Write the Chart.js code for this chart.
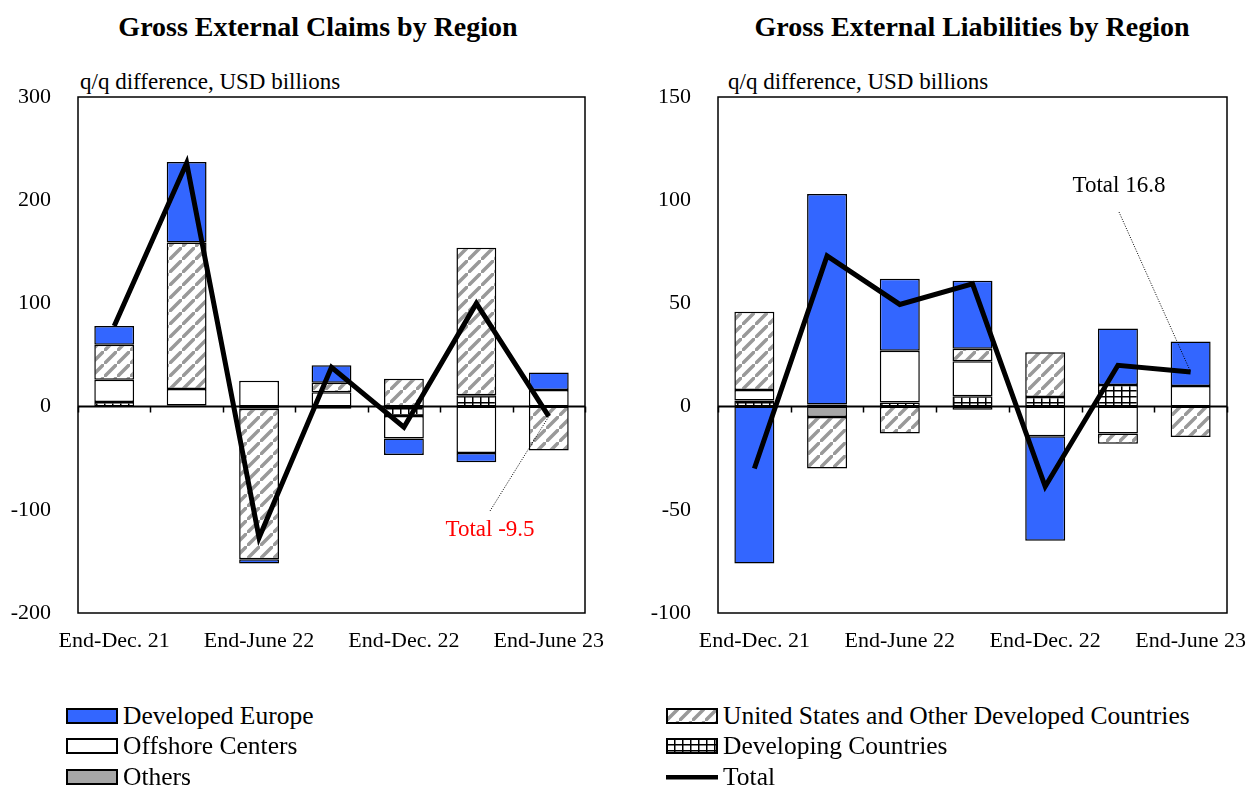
<!DOCTYPE html>
<html>
<head>
<meta charset="utf-8">
<script src="https://cdn.jsdelivr.net/npm/chart.js@4.4.1/dist/chart.umd.min.js"></script>
<style>
  html,body{margin:0;padding:0;background:#fff;overflow:hidden}
  #wrap{position:relative;width:1250px;height:787px;overflow:hidden;font-family:'Liberation Serif','Times New Roman',serif;color:#000}
  .ttl{position:absolute;top:11px;font-weight:bold;font-size:28px;line-height:32px;white-space:nowrap;transform:translateX(-50%)}
  .unit{position:absolute;top:69px;font-size:23px;line-height:26px;white-space:nowrap}
  .cv{position:absolute;top:0}
  .leg{position:absolute;font-size:25.5px;display:flex;align-items:center;height:28px;white-space:nowrap}
  .leg canvas{margin-right:5px}
</style>
</head>
<body>
<div id="wrap">
  <div class="ttl" style="left:318px">Gross External Claims by Region</div>
  <div class="ttl" style="left:972px">Gross External Liabilities by Region</div>
  <div class="unit" style="left:80px">q/q difference, USD billions</div>
  <div class="unit" style="left:728px">q/q difference, USD billions</div>
  <div class="cv" style="left:0;width:625px;height:660px"><canvas id="claims"></canvas></div>
  <div class="cv" style="left:625px;width:680px;height:660px"><canvas id="liab"></canvas></div>
  <div id="legend"></div>
</div>
<script>
'use strict';

// ── data (USD billions, q/q difference) ──
var categories = ['Dec. 21','Mar. 22','June 22','Sep. 22','Dec. 22','Mar. 23','June 23'];
var tickLabels = ['End-Dec. 21','','End-June 22','','End-Dec. 22','','End-June 23'];

var claimsEurope     = [18, 78, -4, 17, -16, -9, 17];
var claimsUSOther    = [34, 142, -146, 9, 27, 143, -42.5];
var claimsOffshore   = [21.5, 16, 25, 14, -22, -45, 16];
var claimsDeveloping = [4.5, 1, -2, 0, -9, 11, 0];
var claimsOthers     = [0, 0, 0, -2, 0, 0, 0];
var claimsTotal      = [78, 236, -127, 38, -20, 100, -9.5];

var liabEurope     = [-76, 102, 35, 33, -50.6, 27.3, 21.5];
var liabUSOther    = [38, -25, -13, 6, 21.6, -5, -14.7];
var liabOffshore   = [5, 0, 25, 17, -14.4, -13, 10];
var liabDeveloping = [3, 1, 2, 5, 4.7, 10.5, 0];
var liabOthers     = [0, -5, 0, -1.5, 0, 0, 0];
var liabTotal      = [-30, 73, 49.5, 59.5, -38.7, 20, 16.8];

var FONT = "'Liberation Serif','Times New Roman',serif";
var BLUE = '#3366ff';
var GREY = '#a6a6a6';

// ── fill patterns ──
function hatchPattern(ctx){
  var s = 13;
  var c = document.createElement('canvas'); c.width = s; c.height = s;
  var g = c.getContext('2d');
  g.fillStyle = '#fff'; g.fillRect(0,0,s,s);
  g.strokeStyle = '#999'; g.lineWidth = 3.5;
  g.beginPath();
  g.moveTo(-3,s+3); g.lineTo(s+3,-3);
  g.moveTo(-s-3,3); g.lineTo(3,-s-3);
  g.moveTo(s-3,2*s+3); g.lineTo(2*s+3,s-3);
  g.stroke();
  return ctx.createPattern(c,'repeat');
}
function gridPattern(ctx){
  var c = document.createElement('canvas'); c.width = 8; c.height = 6;
  var g = c.getContext('2d');
  g.fillStyle = '#fff'; g.fillRect(0,0,8,6);
  g.fillStyle = '#000';
  g.fillRect(0,0,1.5,6);
  g.fillRect(0,0,8,1.5);
  return ctx.createPattern(c,'repeat');
}

// ── box, zero line with ticks, note ──
var framePlugin = {
  id: 'frame',
  afterDraw: function(chart){
    var ctx = chart.ctx, a = chart.chartArea;
    var xs = chart.scales.x, ys = chart.scales.y;
    ctx.save();
    ctx.strokeStyle = '#000';
    ctx.lineWidth = 1.5;
    ctx.strokeRect(a.left, a.top, a.right - a.left, a.bottom - a.top);
    var y0 = ys.getPixelForValue(0);
    ctx.lineWidth = 2;
    ctx.beginPath(); ctx.moveTo(a.left, y0); ctx.lineTo(a.right, y0); ctx.stroke();
    var step = (a.right - a.left) / categories.length;
    ctx.lineWidth = 1.5;
    ctx.beginPath();
    for(var i = 0; i <= categories.length; i++){
      var x = Math.round(a.left + step * i) + 0.5;
      ctx.moveTo(x, y0); ctx.lineTo(x, y0 + 6);
    }
    ctx.stroke();

    var n = chart.options.plugins.frame;
    if(n && n.text){
      var px = xs.getPixelForValue(n.index);
      var py = ys.getPixelForValue(n.value);
      ctx.lineWidth = 1;
      ctx.setLineDash([1,1.5]);
      ctx.strokeStyle = '#000';
      ctx.beginPath(); ctx.moveTo(n.from[0], n.from[1]); ctx.lineTo(px, py); ctx.stroke();
      ctx.setLineDash([]);
      ctx.fillStyle = n.color;
      ctx.font = '23px ' + FONT;
      ctx.textAlign = 'center'; ctx.textBaseline = 'middle';
      ctx.fillText(n.text, n.textAt[0], n.textAt[1]);
    }
    ctx.restore();
  }
};

function barSet(label, data, bg){
  return {
    type: 'bar', label: label, data: data, backgroundColor: bg,
    borderColor: '#000', borderWidth: 1.5, borderSkipped: false,
    stack: 'regions', order: 1,
    categoryPercentage: 1, barPercentage: 0.55
  };
}

function makeChart(id, d, yMin, yMax, yStep, axisW, padRight, note){
  var canvas = document.getElementById(id);
  var ctx = canvas.getContext('2d');
  return new Chart(canvas, {
    data: {
      labels: tickLabels,
      datasets: [
        barSet('Developing Countries', d.developing, gridPattern(ctx)),
        barSet('Others', d.others, GREY),
        barSet('Offshore Centers', d.offshore, '#fff'),
        barSet('United States and Other Developed Countries', d.usOther, hatchPattern(ctx)),
        barSet('Developed Europe', d.europe, BLUE),
        {
          type: 'line', label: 'Total', data: d.total, stack: 'total', order: 0,
          borderColor: '#000', borderWidth: 5, pointRadius: 0, tension: 0, fill: false
        }
      ]
    },
    options: {
      responsive: true, maintainAspectRatio: false, animation: false,
      layout: { padding: { top: 97, right: padRight, bottom: 0, left: 0 } },
      plugins: { legend: { display: false }, tooltip: { enabled: false }, frame: note },
      scales: {
        x: {
          type: 'category', offset: true, stacked: true,
          grid: { display: false, drawTicks: false }, border: { display: false },
          ticks: { autoSkip: false, maxRotation: 0, padding: 15, color: '#000', font: { family: FONT, size: 22 } },
          afterFit: function(s){ s.height = 47; }
        },
        y: {
          stacked: true, min: yMin, max: yMax,
          grid: { display: false, drawTicks: false }, border: { display: false },
          ticks: { stepSize: yStep, padding: 27, color: '#000', font: { family: FONT, size: 22 } },
          afterFit: function(s){ s.width = axisW; }
        }
      }
    },
    plugins: [framePlugin]
  });
}

makeChart('claims', {
  europe: claimsEurope, usOther: claimsUSOther, offshore: claimsOffshore,
  developing: claimsDeveloping, others: claimsOthers, total: claimsTotal
}, -200, 300, 100, 78, 40, { text: 'Total -9.5', color: '#ff0000', index: 6, value: claimsTotal[6], from: [490, 511], textAt: [490, 530] });

makeChart('liab', {
  europe: liabEurope, usOther: liabUSOther, offshore: liabOffshore,
  developing: liabDeveloping, others: liabOthers, total: liabTotal
}, -100, 150, 50, 93, 78, { text: 'Total 16.8', color: '#000', index: 6, value: liabTotal[6], from: [494, 212], textAt: [494, 186] });

// ── legend ──
var legendItems = [
  { label: 'Developed Europe', kind: 'fill', fill: BLUE, x: 66, y: 702 },
  { label: 'Offshore Centers', kind: 'fill', fill: '#fff', x: 66, y: 732 },
  { label: 'Others', kind: 'fill', fill: GREY, x: 66, y: 763 },
  { label: 'United States and Other Developed Countries', kind: 'hatch', x: 666, y: 702 },
  { label: 'Developing Countries', kind: 'grid', x: 666, y: 732 },
  { label: 'Total', kind: 'line', x: 666, y: 763 }
];
var legendEl = document.getElementById('legend');
legendItems.forEach(function(it){
  var row = document.createElement('div');
  row.className = 'leg';
  row.style.left = it.x + 'px'; row.style.top = it.y + 'px';
  var sw = document.createElement('canvas');
  sw.width = 52; sw.height = 16;
  var g = sw.getContext('2d');
  if(it.kind === 'line'){
    g.fillStyle = '#000'; g.fillRect(0, 6, 52, 4.5);
  } else {
    g.fillStyle = it.kind === 'hatch' ? hatchPattern(g) : it.kind === 'grid' ? gridPattern(g) : it.fill;
    g.fillRect(1, 1, 50, 14);
    g.strokeStyle = '#000'; g.lineWidth = 2;
    g.strokeRect(1, 1, 50, 14);
  }
  row.appendChild(sw);
  var t = document.createElement('span');
  t.textContent = it.label;
  row.appendChild(t);
  legendEl.appendChild(row);
});
</script>
</body>
</html>
